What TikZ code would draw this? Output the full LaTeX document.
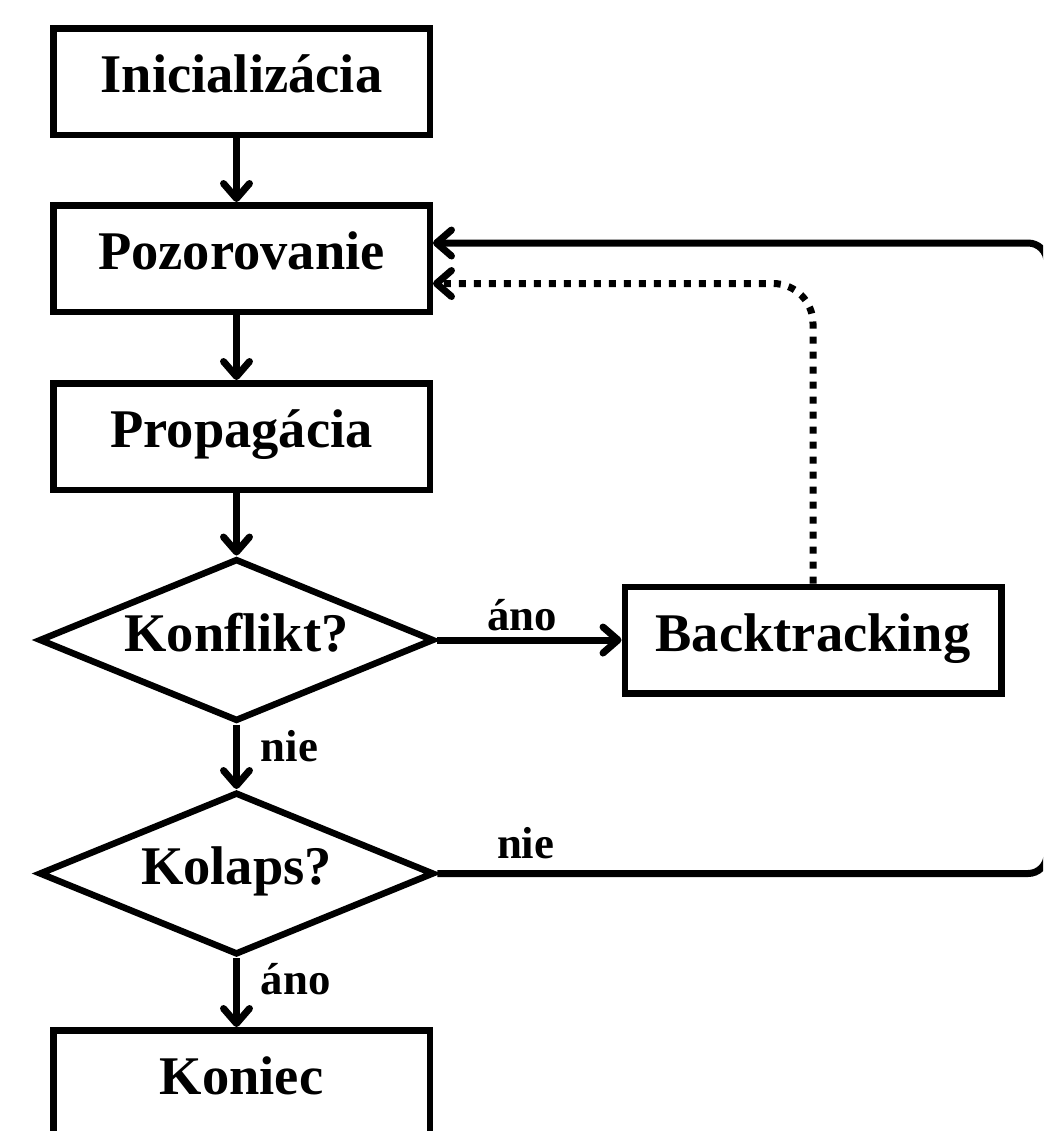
\documentclass[tikz,border=0pt]{standalone}
\usepackage{fontspec}
\setmainfont{Liberation Serif}
\usetikzlibrary{arrows.meta,shapes.geometric}

\begin{document}
\begin{tikzpicture}[
    stepbox/.style={draw, line width=0.13cm, minimum width=7.53cm, minimum height=2.13cm,
        inner sep=0pt, text height=0.8cm, text depth=0.36cm,
        font=\fontsize{31}{37}\selectfont\bfseries},
    decision/.style={draw, diamond, aspect=2.5, line width=0.13cm, minimum width=7.9cm,
        minimum height=3.25cm, inner sep=0pt, text height=0.8cm, text depth=0.36cm,
        font=\fontsize{31}{37}\selectfont\bfseries},
    flow/.style={line width=0.14cm, -{Straight Barb[length=0.3cm,width=0.52cm,round]}},
    lbl/.style={font=\fontsize{25.5}{30}\selectfont\bfseries},
    ]
    \useasboundingbox (0,0) rectangle (20.86,-22.62);
    \clip (0,0) rectangle (20.86,-22.62);

    \node[stepbox] (init) at (4.83,-1.63) {Inicializácia};
    \node[stepbox] (poz) at (4.83,-5.17) {Pozorovanie};
    \node[stepbox] (prop) at (4.83,-8.73) {Propagácia};
    \node[decision] (konf) at (4.73,-12.8) {Konflikt?};
    \node[stepbox] (back) at (16.26,-12.8) {Backtracking};
    \node[decision] (kol) at (4.73,-17.47) {Kolaps?};
    \node[stepbox] (koniec) at (4.83,-21.67) {Koniec};
    \coordinate (loop) at (20.94,-4.86);

    \draw [flow] (init.south -| konf) -- (poz.north -| konf);
    \draw [flow] (poz.south -| konf) -- (prop.north -| konf);
    \draw [flow] (prop.south -| konf) -- (konf.north);
    \draw [flow] (konf.east) -- node[lbl, above, pos=0.46] {áno} (back.west);
    \draw [flow] (konf.south) -- node[lbl, right=0.3cm, pos=0.33] {nie} (kol.north);
    \draw [flow] (kol.south) -- node[lbl, right=0.3cm, pos=0.3] {áno} (koniec.north -| kol);

    \draw [flow, rounded corners=0.38cm] (kol.east)
        -- node[lbl, above, pos=0.145, yshift=0.1cm] {nie} (kol.east -| loop)
        -- (loop) -- (loop -| poz.east);
    \draw [flow, dash pattern=on 0.14cm off 0.16cm, rounded corners=0.8cm]
        (back.north) |- ([yshift=-0.5cm]poz.east);
\end{tikzpicture}
\end{document}
